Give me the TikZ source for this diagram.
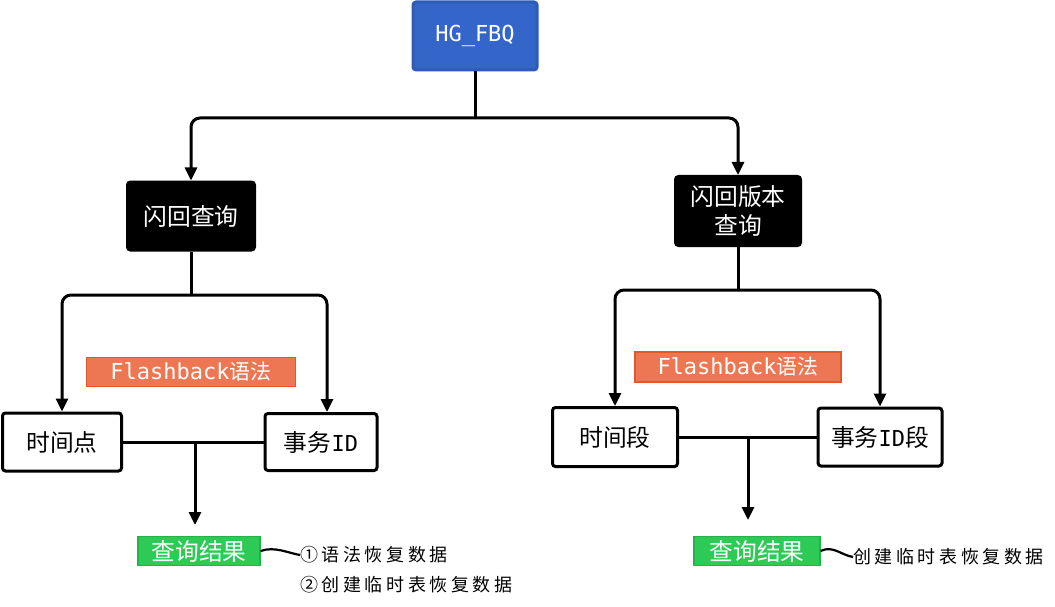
\documentclass[tikz,border=0pt]{standalone}
\usepackage{fontspec}
\usetikzlibrary{arrows.meta}
\setmainfont{DejaVu Sans Mono}
\newfontfamily\cjk[Scale=1.08]{Noto Sans CJK SC}
\newfontfamily\cjkTag[Scale=0.95]{Noto Sans CJK SC}
\newfontfamily\cjkNote[LetterSpace=20]{Noto Sans CJK SC}
\definecolor{fbqBlue}{HTML}{3366C8}
\definecolor{fbqBlueLine}{HTML}{2D5BB5}
\definecolor{synOrange}{HTML}{EC7752}
\definecolor{synOrangeLine}{HTML}{E3582B}
\definecolor{resGreen}{HTML}{2DCB55}
\definecolor{resGreenLine}{HTML}{22B447}
\newcommand{\lineW}{3pt}
\newcommand{\boxFont}{\fontsize{22}{29}\selectfont}
\newcommand{\noteFont}{\fontsize{18}{20}\selectfont\cjkNote}

\begin{document}
\begin{tikzpicture}[x=1pt, y=-1pt,
    box/.style={draw, line width=\lineW, rounded corners=3pt, align=center, inner sep=0pt, font=\boxFont},
    darkbox/.style={box, fill=black, text=white},
    tag/.style={draw, line width=1.2pt, inner sep=0pt, text=white, font=\boxFont},
    conn/.style={line width=\lineW, rounded corners=9pt},
    arrow/.style={conn, -{Triangle[width=12pt,length=13pt]}}]
  \useasboundingbox (0,0) rectangle (1055,607);
  % top level
  \node (root) [box, fill=fbqBlue, draw=fbqBlueLine, text=white, minimum width=124pt, minimum height=68pt] at (475,36) {HG\_FBQ};
  \node (flq) [darkbox, minimum width=127pt, minimum height=68pt] at (191,216) {\cjk 闪回查询};
  \node (fvq) [darkbox, minimum width=125pt, minimum height=69pt] at (738,211) {\cjk 闪回版本\\\cjk 查询};
  \coordinate (rootsplit) at (475,118);
  \draw[conn] (root.south) -- (rootsplit);
  \draw[arrow] (rootsplit) -| (flq.north);
  \draw[arrow] (rootsplit) -| (fvq.north);
  % flashback query
  \node (tp) [box, minimum width=119pt, minimum height=58pt] at (62,442) {\cjk 时间点};
  \node (tid) [box, minimum width=112pt, minimum height=57pt] at (321,442) {{\cjk 事务}ID};
  \node (fbl) [tag, fill=synOrange, draw=synOrangeLine, minimum width=209pt, minimum height=29pt] at (191,372) {Flashback{\cjkTag 语法}};
  \coordinate (flqsplit) at (191,295);
  \draw[conn] (flq.south) -- (flqsplit);
  \draw[arrow] (flqsplit) -| (tp.north);
  \draw[arrow] (flqsplit) -| ([xshift=6pt]tid.north);
  \node (resl) [tag, fill=resGreen, draw=resGreenLine, minimum width=122pt, minimum height=29pt] at (199,551) {\cjk 查询结果};
  \coordinate (lmerge) at (195,442);
  \coordinate (lend) at (195,525);
  \draw[conn] (tp) -- (tid);
  \draw[arrow] (lmerge) -- (lend);
  \node (notea) [anchor=west, inner sep=0pt, font=\noteFont] at (300,555) {①语法恢复数据};
  \node (noteb) [anchor=west, inner sep=0pt, font=\noteFont] at (300,585) {②创建临时表恢复数据};
  \draw[line width=2.2pt] (resl.east) .. controls +(14,-5) and +(-12,-2) .. (notea.west);
  % flashback version query
  \node (tr) [box, minimum width=125pt, minimum height=59pt] at (615,437) {\cjk 时间段};
  \node (tidr) [box, minimum width=124pt, minimum height=58pt] at (880,437) {{\cjk 事务}ID{\cjk 段}};
  \node (fbr) [tag, fill=synOrange, draw=synOrangeLine, minimum width=206pt, minimum height=30pt] at (738,367) {Flashback{\cjkTag 语法}};
  \coordinate (fvqsplit) at (738,290);
  \draw[conn] (fvq.south) -- (fvqsplit);
  \draw[arrow] (fvqsplit) -| (tr.north);
  \draw[arrow] (fvqsplit) -| (tidr.north);
  \node (resr) [tag, fill=resGreen, draw=resGreenLine, minimum width=126pt, minimum height=29pt] at (757,551) {\cjk 查询结果};
  \coordinate (rmerge) at (748,437);
  \coordinate (rend) at (748,520);
  \draw[conn] (tr) -- (tidr);
  \draw[arrow] (rmerge) -- (rend);
  \node (notec) [anchor=west, inner sep=0pt, font=\noteFont] at (853,557) {创建临时表恢复数据};
  \draw[line width=2.2pt] (resr.east) .. controls +(12,-6) and +(-12,-2) .. (notec.west);
\end{tikzpicture}
\end{document}
